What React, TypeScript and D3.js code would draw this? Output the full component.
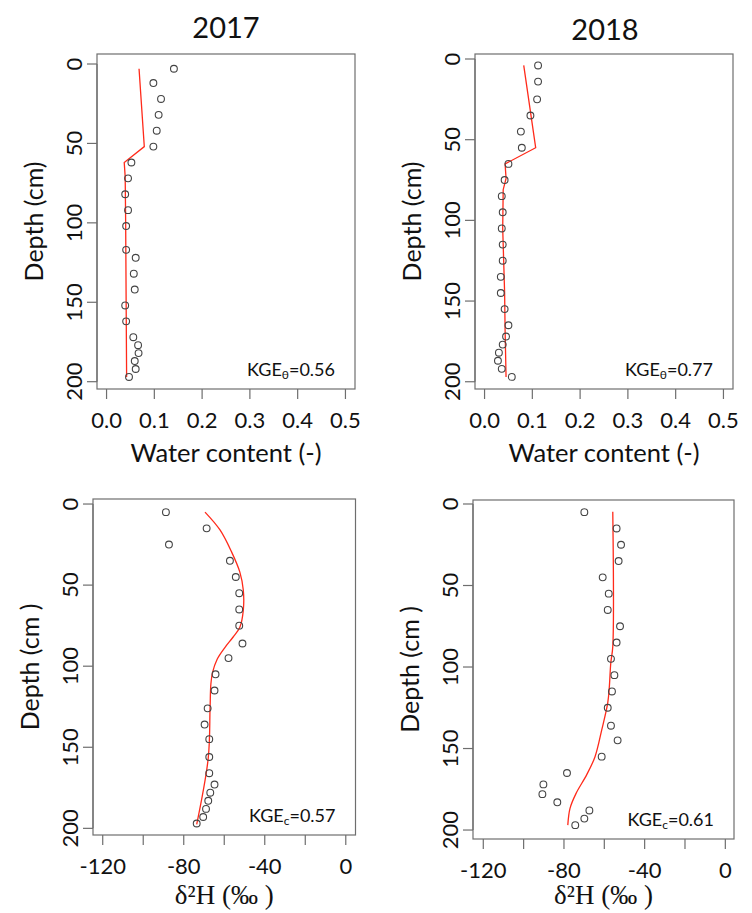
import React from "react";
import * as d3 from "d3";

// ---------- data ----------
const obsDepth = [3, 12, 22, 32, 42, 52, 62, 72, 82, 92, 102, 117, 122, 132, 142, 152, 162, 172, 177, 182, 187, 192, 197];
const obsTheta2017 = [0.141, 0.098, 0.114, 0.109, 0.105, 0.098, 0.052, 0.045, 0.039, 0.045, 0.041, 0.041, 0.061, 0.057, 0.059, 0.039, 0.041, 0.056, 0.066, 0.067, 0.059, 0.061, 0.047];
const simDepth2017 = [3, 52, 62, 71, 100, 150, 197];
const simTheta2017 = [0.068, 0.079, 0.037, 0.039, 0.040, 0.041, 0.042];

const obsDepth2018 = [4, 14, 25, 35, 45, 55, 65, 75, 85, 95, 105, 115, 125, 135, 145, 155, 165, 172, 177, 182, 187, 192, 197];
const obsTheta2018 = [0.112, 0.112, 0.110, 0.096, 0.076, 0.078, 0.050, 0.042, 0.036, 0.038, 0.036, 0.038, 0.038, 0.034, 0.034, 0.042, 0.050, 0.045, 0.038, 0.030, 0.028, 0.036, 0.057];
const simDepth2018 = [4, 55, 65, 74, 81, 105, 125, 145, 168, 197];
const simTheta2018 = [0.082, 0.107, 0.043, 0.045, 0.039, 0.038, 0.040, 0.042, 0.043, 0.045];

const obsDepthIso2017 = [5, 15, 25, 35, 45, 55, 65, 75, 86, 95, 105, 115, 126, 136, 145, 156, 166, 173, 178, 183, 188, 193, 197];
const obsIso2017 = [-88.8, -68.7, -87.3, -57.2, -54.3, -52.6, -52.6, -52.6, -51.0, -57.9, -64.3, -64.8, -68.2, -69.7, -67.4, -67.4, -67.4, -64.8, -66.9, -67.9, -69.0, -70.4, -73.6];
const simDepthIso2017 = [5, 16, 29.5, 42, 53, 65.6, 76, 82, 88.5, 95.7, 104, 111, 125.6, 156.6, 197.5];
const simIso2017 = [-69.5, -62.1, -56.4, -52.3, -50.6, -50.6, -52.3, -55.6, -59.7, -63.5, -65.8, -66.6, -67.0, -67.9, -73.6];

const obsDepthIso2018 = [5, 15, 25, 35, 45, 55, 65, 75, 85, 95, 105, 115, 125, 136, 145, 155, 165, 172, 178, 183, 188, 193, 197];
const obsIso2018 = [-69.9, -53.9, -51.7, -52.9, -60.8, -57.8, -58.3, -52.2, -53.9, -56.7, -55.0, -56.2, -58.3, -56.7, -53.4, -61.3, -78.5, -90.2, -90.7, -83.3, -67.4, -69.9, -74.4];
const simDepthIso2018 = [4.7, 87.5, 97.7, 112, 122, 138.7, 155, 166, 177.5, 186.7, 197];
const simIso2018 = [-55.8, -55.8, -56.8, -57.5, -58.3, -61.3, -64.6, -68.7, -74, -77, -78.1];

const depthTicks = [0, 50, 100, 150, 200];
const thetaTicks = [0, 0.1, 0.2, 0.3, 0.4, 0.5];
const isoTicks = [-120, -100, -80, -60, -40, -20, 0];
const isoTickLabels = ["-120", "", "-80", "", "-40", "", "0"];
const years = ["2017", "2018"];
const kgeTheta = ["0.56", "0.77"];
const kgeIso = ["0.57", "0.61"];

const SANS = "Lato, 'Open Sans', sans-serif";
const SERIF = "'Liberation Serif', 'DejaVu Serif', serif";

type PanelProps = {
  box: { left: number; right: number; top: number; bottom: number };
  xDomain: [number, number];
  yDomain: [number, number];
  xTicks: number[];
  xLabels: string[];
  obsX: number[];
  obsY: number[];
  simX: number[];
  simY: number[];
  curve: any;
  xTitle: React.ReactNode;
  xTitleDy: number;
  yTitle: string;
  kge: string;
  kgeSub: string;
};

function Panel(p: PanelProps) {
  const { box } = p;
  const x = d3.scaleLinear().domain(p.xDomain).range([box.left, box.right]);
  const y = d3.scaleLinear().domain(p.yDomain).range([box.top, box.bottom]);
  const line = d3
    .line<number>()
    .x((_, i) => x(p.simX[i]))
    .y((d) => y(d))
    .curve(p.curve);
  const axisCol = "#6e6e6e";
  const cy = (box.top + box.bottom) / 2;
  return (
    <g>
      <rect x={box.left} y={box.top} width={box.right - box.left} height={box.bottom - box.top} fill="none" stroke={axisCol} strokeWidth={1.2} />
      {/* y axis */}
      {depthTicks.map((t) => (
        <g key={"y" + t}>
          <line x1={box.left - 10} x2={box.left} y1={y(t)} y2={y(t)} stroke={axisCol} strokeWidth={1.2} />
          <text
            transform={`translate(${box.left - 24},${y(t)}) rotate(-90)`}
            textAnchor="middle"
            dominantBaseline="central"
            fontFamily={SANS}
            fontSize={22}
            fill="#111"
          >
            {t}
          </text>
        </g>
      ))}
      <line x1={box.left} x2={box.left} y1={y(0)} y2={y(200)} stroke={axisCol} strokeWidth={1.2} />
      <text
        transform={`translate(${box.left - 64},${cy}) rotate(-90)`}
        textAnchor="middle"
        dominantBaseline="central"
        fontFamily={SANS}
        fontSize={25}
        fill="#111"
      >
        {p.yTitle}
      </text>
      {/* x axis */}
      {p.xTicks.map((t, i) => (
        <g key={"x" + t}>
          <line x1={x(t)} x2={x(t)} y1={box.bottom} y2={box.bottom + 10} stroke={axisCol} strokeWidth={1.2} />
          <text x={x(t)} y={box.bottom + 30} textAnchor="middle" dominantBaseline="central" fontFamily={SANS} fontSize={22} fill="#111">
            {p.xLabels[i]}
          </text>
        </g>
      ))}
      <g transform={`translate(${(box.left + box.right) / 2},${box.bottom + p.xTitleDy})`}>{p.xTitle}</g>
      {/* simulated */}
      <path d={line(p.simY) || ""} fill="none" stroke="#ff2a1a" strokeWidth={1.3} />
      {/* observed */}
      {p.obsY.map((d, i) => (
        <circle key={i} cx={x(p.obsX[i])} cy={y(d)} r={3.4} fill="none" stroke="#444" strokeWidth={1.1} />
      ))}
      <text x={box.right - 20} y={box.bottom - 20} textAnchor="end" dominantBaseline="central" fontFamily={SANS} fontSize={18} fill="#111">
        KGE
        <tspan fontSize={12} dy={5}>
          {p.kgeSub}
        </tspan>
        <tspan dy={-5}>={p.kge}</tspan>
      </text>
    </g>
  );
}

const waterTitle = (
  <text textAnchor="middle" dominantBaseline="central" fontFamily={SANS} fontSize={25.5} fill="#111">
    Water content (-)
  </text>
);
const isoTitle = (
  <text textAnchor="middle" y={7} fontFamily={SERIF} fontSize={27} fill="#111">
    δ²H (‰ )
  </text>
);

export default function App() {
  const thetaLabels = thetaTicks.map((t) => t.toFixed(1));
  return (
    <svg width={752} height={913} viewBox="0 0 752 913" style={{ display: "block", position: "absolute", left: 0, top: 0 }}>
      <rect width={752} height={913} fill="#fff" />
      <text x={226} y={26} textAnchor="middle" dominantBaseline="central" fontFamily={SANS} fontSize={29} fill="#111">
        {years[0]}
      </text>
      <text x={605} y={28} textAnchor="middle" dominantBaseline="central" fontFamily={SANS} fontSize={29} fill="#111">
        {years[1]}
      </text>
      <Panel
        box={{ left: 97, right: 355, top: 54, bottom: 389 }}
        xDomain={[-0.02, 0.52]}
        yDomain={[-6.3, 204.6]}
        xTicks={thetaTicks}
        xLabels={thetaLabels}
        obsX={obsTheta2017}
        obsY={obsDepth}
        simX={simTheta2017}
        simY={simDepth2017}
        curve={d3.curveLinear}
        xTitle={waterTitle}
        xTitleDy={63}
        yTitle="Depth (cm)"
        kge={kgeTheta[0]}
        kgeSub="θ"
      />
      <Panel
        box={{ left: 475, right: 733, top: 54, bottom: 389 }}
        xDomain={[-0.02, 0.52]}
        yDomain={[-3.1, 204.5]}
        xTicks={thetaTicks}
        xLabels={thetaLabels}
        obsX={obsTheta2018}
        obsY={obsDepth2018}
        simX={simTheta2018}
        simY={simDepth2018}
        curve={d3.curveLinear}
        xTitle={waterTitle}
        xTitleDy={63}
        yTitle="Depth (cm)"
        kge={kgeTheta[1]}
        kgeSub="θ"
      />
      <Panel
        box={{ left: 93, right: 355.5, top: 499, bottom: 835 }}
        xDomain={[-124.8, 4.8]}
        yDomain={[-3.1, 204.1]}
        xTicks={isoTicks}
        xLabels={isoTickLabels}
        obsX={obsIso2017}
        obsY={obsDepthIso2017}
        simX={simIso2017}
        simY={simDepthIso2017}
        curve={d3.curveCatmullRom}
        xTitle={isoTitle}
        xTitleDy={62}
        yTitle="Depth (cm )"
        kge={kgeIso[0]}
        kgeSub="c"
      />
      <Panel
        box={{ left: 473, right: 734, top: 500, bottom: 839 }}
        xDomain={[-125.1, 4.3]}
        yDomain={[-2.45, 205.5]}
        xTicks={isoTicks}
        xLabels={isoTickLabels}
        obsX={obsIso2018}
        obsY={obsDepthIso2018}
        simX={simIso2018}
        simY={simDepthIso2018}
        curve={d3.curveCatmullRom}
        xTitle={isoTitle}
        xTitleDy={58}
        yTitle="Depth (cm )"
        kge={kgeIso[1]}
        kgeSub="c"
      />
    </svg>
  );
}
